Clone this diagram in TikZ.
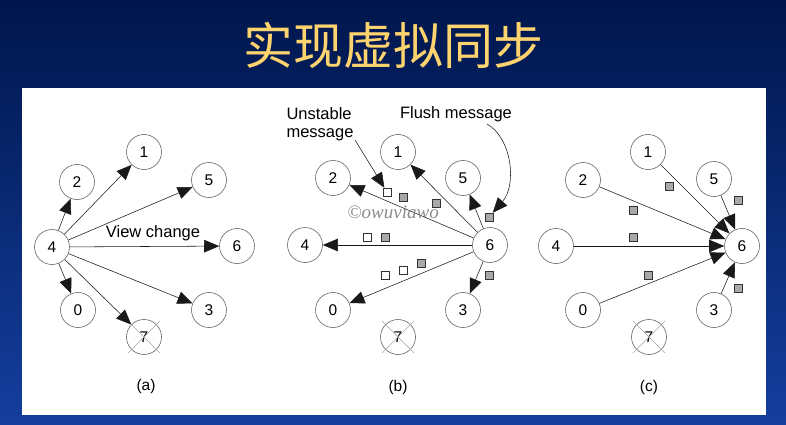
\documentclass[tikz,border=0pt]{standalone}
\usepackage{fontspec}
\setmainfont{Liberation Sans}
\newfontfamily\cjk{Noto Sans CJK SC}
\newfontfamily\wmfont{Liberation Serif}
\usetikzlibrary{arrows.meta,calc}
\definecolor{navytop}{RGB}{0,22,76}
\definecolor{navybot}{RGB}{20,62,158}
\definecolor{titlegold}{RGB}{255,212,110}
\definecolor{ringgray}{RGB}{100,100,100}
\definecolor{msggray}{RGB}{168,168,168}
\begin{document}
\begin{tikzpicture}[x=1pt,y=-1pt,
  proc/.style={circle,draw=ringgray,line width=0.6pt,minimum size=35pt,inner sep=0pt,
    font=\fontsize{15.5}{15.5}\selectfont},
  link/.style={draw=black!90,line width=0.55pt,-{Triangle[length=15pt,width=12.5pt]}},
  msgbox/.style={draw=black!80,line width=0.5pt,minimum size=8pt,inner sep=0pt},
  unstable/.style={msgbox,fill=white},
  flushbox/.style={msgbox,fill=msggray},
  caption/.style={font=\fontsize{15.5}{15.5}\selectfont},
  label/.style={font=\fontsize{16.5}{18}\selectfont},
  crossline/.style={draw=black!35,line width=0.6pt}]
\useasboundingbox (0,0) rectangle (786,425);
% slide background and white drawing area
\shade[top color=navytop,bottom color=navybot] (0,0) rectangle (786,425);
\fill[white] (22,88) rectangle (766,415);
% title
\node[text=titlegold,font=\cjk\fontsize{50}{50}\selectfont] (title) at (393,45) {实现虚拟同步};

% ---------- (a) process 4 announces the view change ----------
\node[proc] (a1) at (144,152) {1};
\node[proc] (a2) at (77,182) {2};
\node[proc] (a5) at (209,180) {5};
\node[proc] (a4) at (52,247) {4};
\node[proc] (a6) at (237,246) {6};
\node[proc] (a0) at (78,310) {0};
\node[proc] (a3) at (209,310) {3};
\node[proc] (a7) at (144,337) {7};
\draw[crossline] ($(a7)+(-16,-16)$) -- ($(a7)+(16,16)$);
\draw[crossline] ($(a7)+(16,-16)$) -- ($(a7)+(-16,16)$);
\foreach \t in {a1,a2,a5,a6,a0,a3,a7} \draw[link] (a4) -- (\t);
\node[label] (vc) at (153,233) {View change};
\node[caption] (capa) at (146,386) {(a)};

% ---------- (b) process 6 forwards unstable messages and flushes ----------
\node[proc] (b1) at (398,152) {1};
\node[proc] (b2) at (333,178) {2};
\node[proc] (b5) at (463,178) {5};
\node[proc] (b4) at (305,245) {4};
\node[proc] (b6) at (490,245) {6};
\node[proc] (b0) at (333,310) {0};
\node[proc] (b3) at (463,310) {3};
\node[proc] (b7) at (398,337) {7};
\draw[crossline] ($(b7)+(-16,-16)$) -- ($(b7)+(16,16)$);
\draw[crossline] ($(b7)+(16,-16)$) -- ($(b7)+(-16,16)$);
\foreach \t in {b1,b2,b5,b4,b0,b3} \draw[link] (b6) -- (\t);
\node[unstable] (bu1) at (387,192) {};
\node[flushbox] (bf1) at (403,197) {};
\node[flushbox] (bf2) at (436,203) {};
\node[flushbox] (bf3) at (489,217) {};
\node[unstable] (bu2) at (367,237) {};
\node[flushbox] (bf4) at (385,237) {};
\node[unstable] (bu3) at (385,275) {};
\node[unstable] (bu4) at (403,270) {};
\node[flushbox] (bf5) at (421,263) {};
\node[flushbox] (bf6) at (489,275) {};
\node[label,align=left,anchor=north west] (unst) at (283,104) {Unstable\\message};
\node[label] (flush) at (456,114) {Flush message};
\coordinate (ustart) at (355,140);
\coordinate (fstart) at (487,124);
\draw[link] (ustart) -- (bu1);
\draw[link] (fstart) .. controls (512,138) and (517,185) .. (bf3);
\node[text=black!45,font=\wmfont\itshape\fontsize{19}{19}\selectfont] (wm) at (393,212) {©owuviawo};
\node[caption] (capb) at (398,387) {(b)};

% ---------- (c) everyone flushes to process 6 ----------
\node[proc] (c1) at (648,152) {1};
\node[proc] (c2) at (583,180) {2};
\node[proc] (c5) at (714,179) {5};
\node[proc] (c4) at (556,246) {4};
\node[proc] (c6) at (742,246) {6};
\node[proc] (c0) at (583,310) {0};
\node[proc] (c3) at (714,310) {3};
\node[proc] (c7) at (649,337) {7};
\draw[crossline] ($(c7)+(-16,-16)$) -- ($(c7)+(16,16)$);
\draw[crossline] ($(c7)+(16,-16)$) -- ($(c7)+(-16,16)$);
\foreach \s in {c1,c2,c5,c4,c0,c3} \draw[link] (\s) -- (c6);
\node[flushbox] (cf1) at (669,186) {};
\node[flushbox] (cf2) at (633,210) {};
\node[flushbox] (cf3) at (633,237) {};
\node[flushbox] (cf4) at (648,275) {};
\node[flushbox] (cf5) at (738,200) {};
\node[flushbox] (cf6) at (738,288) {};
\node[caption] (capc) at (649,387) {(c)};
\end{tikzpicture}
\end{document}
